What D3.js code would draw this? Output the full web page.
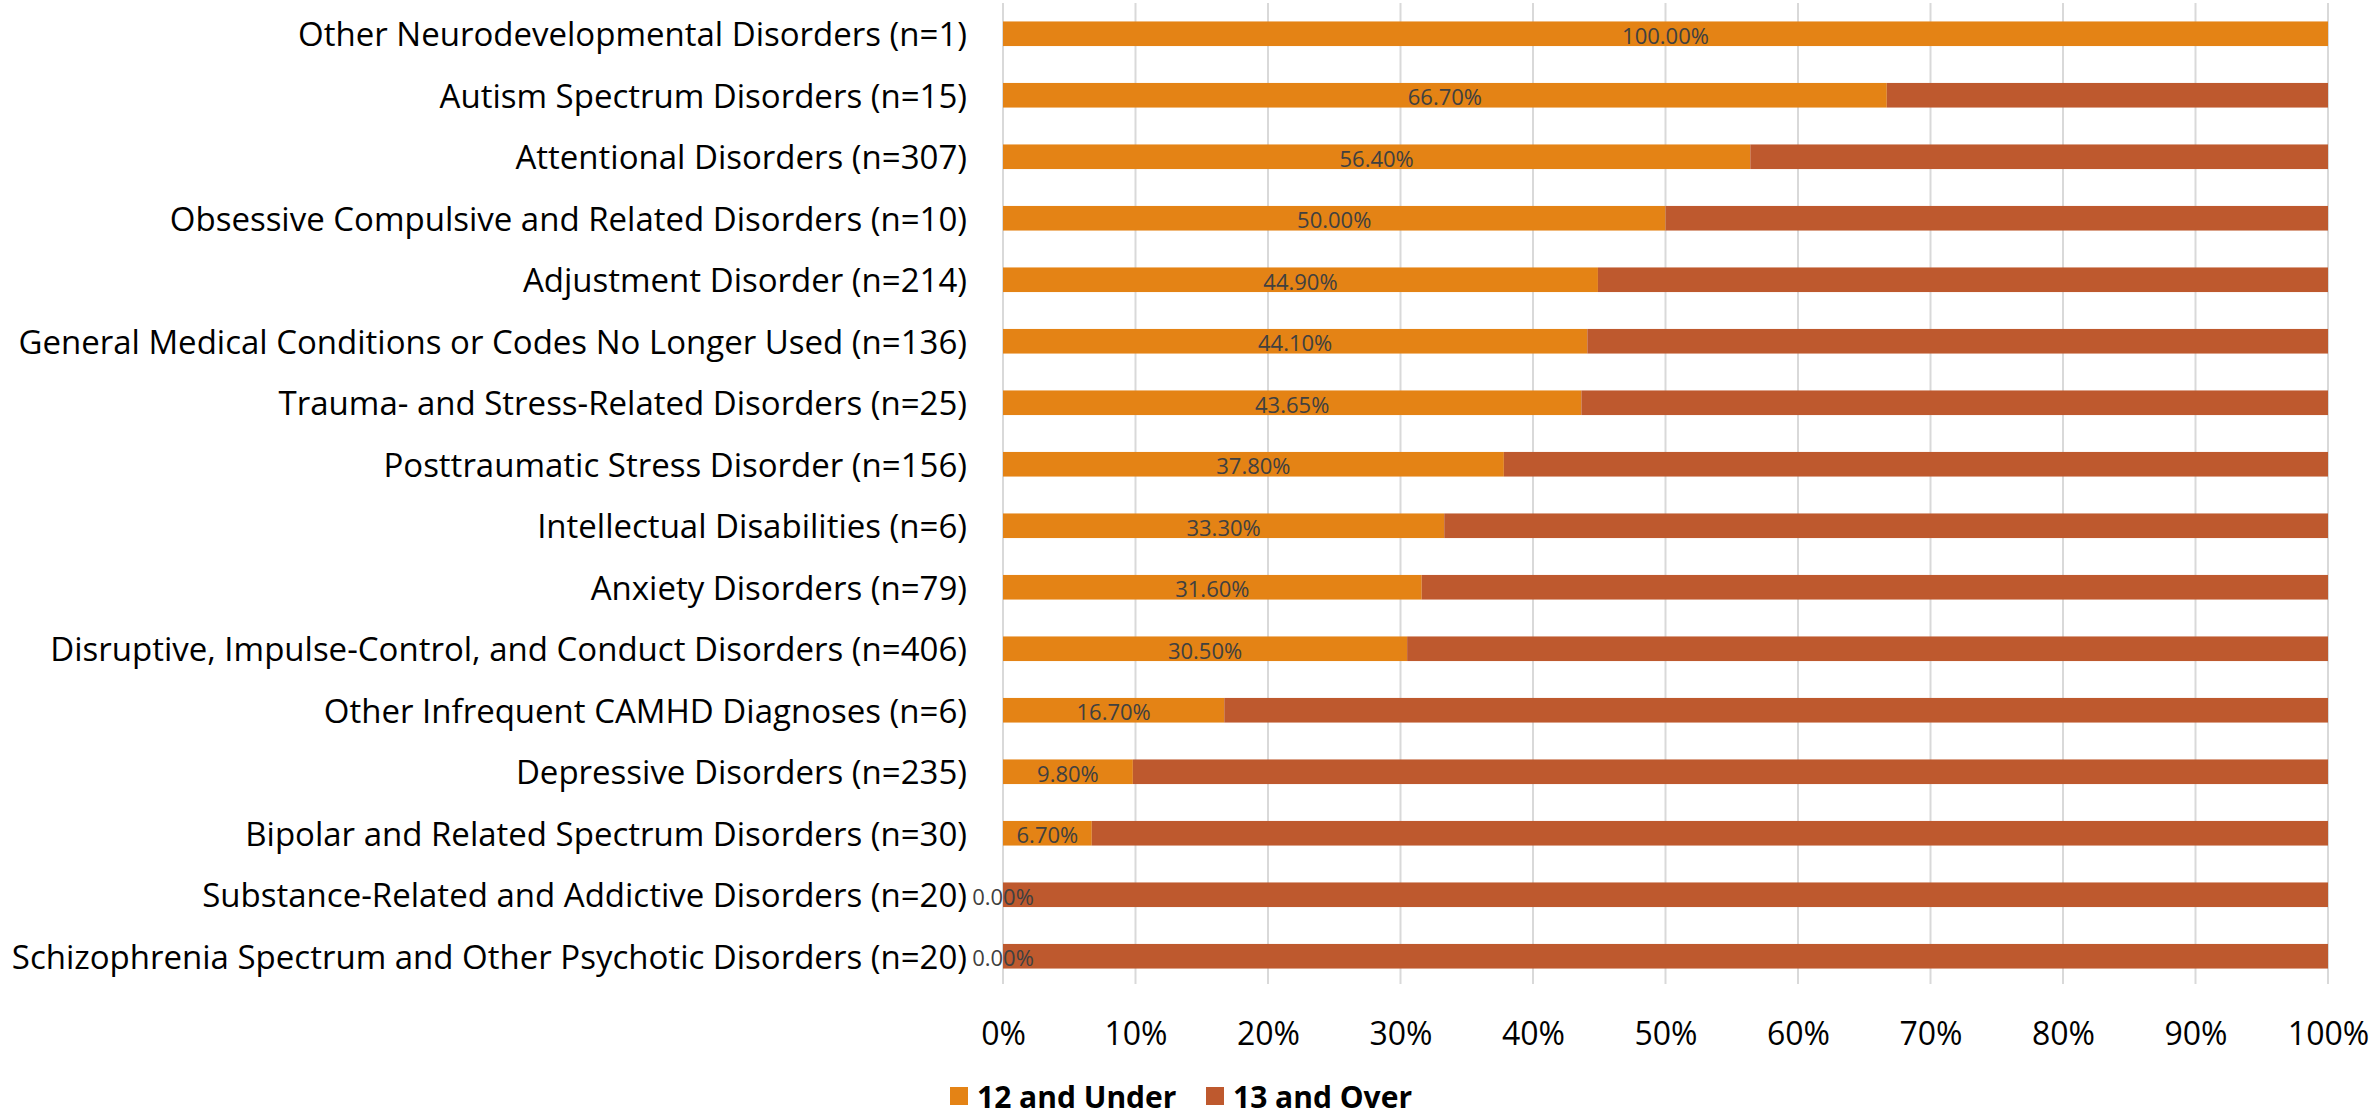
<!DOCTYPE html>
<html>
<head>
<meta charset="utf-8">
<script src="https://cdn.jsdelivr.net/npm/d3@7"></script>
<style>
  html, body { margin: 0; padding: 0; background: #fff; }
  svg { display: block; }
  text { font-family: "Open Sans", "DejaVu Sans", sans-serif; }
</style>
</head>
<body>
<svg id="chart" width="2376" height="1118"></svg>
<script>
// Diagnostic categories, top to bottom
const categories = [
  "Other Neurodevelopmental Disorders (n=1)",
  "Autism Spectrum Disorders (n=15)",
  "Attentional Disorders (n=307)",
  "Obsessive Compulsive and Related Disorders (n=10)",
  "Adjustment Disorder (n=214)",
  "General Medical Conditions or Codes No Longer Used (n=136)",
  "Trauma- and Stress-Related Disorders (n=25)",
  "Posttraumatic Stress Disorder (n=156)",
  "Intellectual Disabilities (n=6)",
  "Anxiety Disorders (n=79)",
  "Disruptive, Impulse-Control, and Conduct Disorders (n=406)",
  "Other Infrequent CAMHD Diagnoses (n=6)",
  "Depressive Disorders (n=235)",
  "Bipolar and Related Spectrum Disorders (n=30)",
  "Substance-Related and Addictive Disorders (n=20)",
  "Schizophrenia Spectrum and Other Psychotic Disorders (n=20)"
];

// Share of youth aged 12 and under (%)
const under12 = [100.00, 66.70, 56.40, 50.00, 44.90, 44.10, 43.65, 37.80, 33.30, 31.60, 30.50, 16.70, 9.80, 6.70, 0.00, 0.00];
// Share of youth aged 13 and over (%)
const over13 = [0.00, 33.30, 43.60, 50.00, 55.10, 55.90, 56.35, 62.20, 66.70, 68.40, 69.50, 83.30, 90.20, 93.30, 100.00, 100.00];

const seriesNames = ["12 and Under", "13 and Over"];
const seriesColors = ["#E48315", "#BE592E"];
const xTicks = [0, 10, 20, 30, 40, 50, 60, 70, 80, 90, 100];

const svg = d3.select("#chart");

const plot = { left: 1003, right: 2328, top: 3, bottom: 987 };

const x = d3.scaleLinear().domain([0, 100]).range([plot.left, plot.right]);
const y = d3.scaleBand().domain(categories).range([plot.top, plot.bottom])
  .paddingInner(0.6).paddingOuter(0.3);

// Vertical gridlines
svg.append("g")
  .selectAll("line")
  .data(xTicks)
  .join("line")
  .attr("x1", d => x(d)).attr("x2", d => x(d))
  .attr("y1", plot.top).attr("y2", plot.bottom - 3)
  .attr("stroke", "#D9D9D9")
  .attr("stroke-width", 2);

// Stacked bars
const rows = categories.map((c, i) => ({ cat: c, vals: [under12[i], over13[i]] }));
const stacked = d3.stack().keys([0, 1]).value((d, k) => d.vals[k])(rows);

svg.append("g")
  .selectAll("g")
  .data(stacked)
  .join("g")
  .attr("fill", (s, i) => seriesColors[i])
  .selectAll("rect")
  .data(s => s)
  .join("rect")
  .attr("x", d => x(d[0]))
  .attr("width", d => x(d[1]) - x(d[0]))
  .attr("y", d => y(d.data.cat))
  .attr("height", y.bandwidth());

// Value labels for the 12 and under segment
svg.append("g")
  .selectAll("text")
  .data(rows)
  .join("text")
  .attr("x", d => x(d.vals[0] / 2))
  .attr("y", d => y(d.cat) + y.bandwidth() / 2 + 1)
  .attr("text-anchor", "middle")
  .attr("dominant-baseline", "central")
  .attr("font-size", 22)
  .attr("fill", "#404040")
  .text(d => d.vals[0].toFixed(2) + "%");

// Category axis labels
svg.append("g")
  .selectAll("text")
  .data(categories)
  .join("text")
  .attr("x", plot.left - 36)
  .attr("y", d => y(d) + y.bandwidth() / 2)
  .attr("text-anchor", "end")
  .attr("dominant-baseline", "central")
  .attr("font-size", 33)
  .attr("fill", "#000")
  .text(d => d);

// Percentage axis
const xAxis = d3.axisBottom(x).tickValues(xTicks).tickFormat(d => d + "%").tickSize(0);
const gx = svg.append("g")
  .attr("transform", `translate(0,${plot.bottom + 32})`)
  .call(xAxis);
gx.select(".domain").remove();
gx.selectAll("text")
  .attr("font-size", 32)
  .attr("fill", "#000")
  .attr("font-family", "\"Open Sans\", sans-serif");

// Legend
const legend = svg.append("g").attr("transform", "translate(950,1096)");
const legendX = [0, 256];
seriesNames.forEach((name, i) => {
  const g = legend.append("g").attr("transform", `translate(${legendX[i]},0)`);
  g.append("rect").attr("x", 0).attr("y", -9).attr("width", 18).attr("height", 18)
    .attr("fill", seriesColors[i]);
  g.append("text").attr("x", 27).attr("y", 0)
    .attr("dominant-baseline", "central")
    .attr("font-size", 30).attr("font-weight", "bold").attr("fill", "#000")
    .text(name);
});
</script>
</body>
</html>
